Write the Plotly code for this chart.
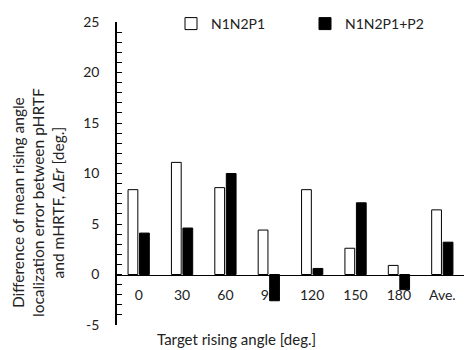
import plotly.graph_objects as go

categories = ["0", "30", "60", "90", "120", "150", "180", "Ave."]
n1n2p1 = [8.4, 11.1, 8.6, 4.4, 8.4, 2.6, 0.9, 6.4]
n1n2p1_p2 = [4.1, 4.6, 10.0, -2.6, 0.6, 7.1, -1.5, 3.2]
y_ticks = [-5, 0, 5, 10, 15, 20, 25]
y_ticktext = ["-5", "0", "5", "10", "15", "20", "25"]

FONT = "Lato"
W, H = 468, 350
L, R, T, B = 117, 4, 22, 25
pw, ph = W - L - R, H - T - B

fig = go.Figure()
fig.add_trace(go.Bar(x=categories, y=n1n2p1, name="N1N2P1", legend="legend",
                     marker=dict(color="white", line=dict(color="black", width=1))))
fig.add_trace(go.Bar(x=categories, y=n1n2p1_p2, name="N1N2P1+P2", legend="legend2",
                     marker=dict(color="black", line=dict(color="black", width=1))))

leg_common = dict(orientation="h", yanchor="middle", xanchor="left",
                  font=dict(size=14, family=FONT, color="#222"), itemwidth=30,
                  bgcolor="rgba(0,0,0,0)", borderwidth=0)
fig.update_layout(
    width=W, height=H,
    margin=dict(l=L, r=R, t=T, b=B, pad=0),
    paper_bgcolor="white", plot_bgcolor="white",
    font=dict(family=FONT, size=14, color="#222"),
    barmode="group", bargap=0.47, bargroupgap=0.15,
    showlegend=True,
    legend=dict(x=(171 - L) / pw, y=(H - B - 24) / ph, **leg_common),
    legend2=dict(x=(305 - L) / pw, y=(H - B - 24) / ph, **leg_common),
    xaxis=dict(anchor="free", position=5 / 30, showline=True, linecolor="black", linewidth=1,
               ticks="", showgrid=False, zeroline=False, layer="below traces",
               ticklabelstandoff=8, tickfont=dict(size=14)),
    yaxis=dict(range=[-5, 25], tickvals=y_ticks, ticktext=y_ticktext, showline=True,
               linecolor="black", linewidth=1.5, ticks="inside", ticklen=5, tickwidth=1,
               tickcolor="black", showgrid=False, zeroline=False, ticklabelstandoff=13,
               minor=dict(dtick=1, ticks="inside", ticklen=5, tickcolor="black", tickwidth=1),
               tickfont=dict(size=14)),
)

fig.add_annotation(text="Difference of mean rising angle<br>localization error between pHRTF<br>and mHRTF, <i>ΔEr</i> [deg.]",
                   xref="paper", yref="paper", x=(38 - L) / pw, y=(H - B - 203) / ph,
                   textangle=-90, showarrow=False, font=dict(size=15.5, family=FONT, color="#222"),
                   xanchor="center", yanchor="middle", align="center")
fig.add_annotation(text="Target rising angle [deg.]", xref="paper", yref="paper",
                   x=(236 - L) / pw, y=(H - B - 339) / ph, showarrow=False,
                   font=dict(size=15, family=FONT, color="#222"), xanchor="center", yanchor="middle")

fig.write_html("out.html")
